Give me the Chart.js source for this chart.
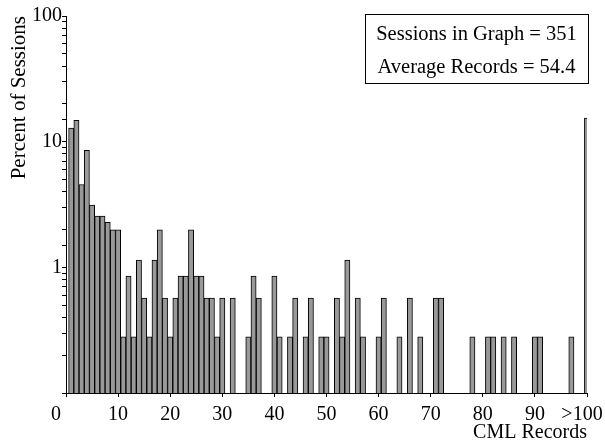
<!DOCTYPE html>
<html>
<head>
<meta charset="utf-8">
<title>CML Records per Session</title>
<script src="https://cdn.jsdelivr.net/npm/chart.js@4/dist/chart.umd.min.js"></script>
<style>
  html, body { margin: 0; padding: 0; background: #fff; }
  #wrap { width: 605px; height: 443px; }
</style>
</head>
<body>
<div id="wrap"><canvas id="chart" width="605" height="443"></canvas></div>
<script>
/* ── Data ──────────────────────────────────────────────────────────────── */
// bin = number of CML records in a session; 100 stands for the ">100" bin
const BINS = [
  1, 2, 3, 4, 5, 6, 7, 8, 9, 10,
  11, 12, 13, 14, 15, 16, 17, 18, 19, 20,
  21, 22, 23, 24, 25, 26, 27, 28, 29, 30,
  32, 35, 36, 37, 40, 41, 43, 44, 46, 47,
  49, 50, 52, 53, 54, 56, 57, 60, 61, 64,
  66, 68, 71, 72, 78, 81, 82, 84, 86, 90,
  91, 97, 100
];
// percent of sessions in each bin
const PERCENT = [
  12.82, 14.81, 4.56, 8.55, 3.13, 2.56, 2.56, 2.28, 1.99, 1.99,
  0.28, 0.85, 0.28, 1.14, 0.57, 0.28, 1.14, 1.99, 0.57, 0.28,
  0.57, 0.85, 0.85, 1.99, 0.85, 0.85, 0.57, 0.57, 0.28, 0.57,
  0.57, 0.28, 0.85, 0.57, 0.85, 0.28, 0.28, 0.57, 0.28, 0.57,
  0.28, 0.28, 0.57, 0.28, 1.14, 0.57, 0.28, 0.28, 0.57, 0.28,
  0.57, 0.28, 0.57, 0.57, 0.28, 0.28, 0.28, 0.28, 0.28, 0.28,
  0.28, 0.28, 15.38
];
const X_TICK_LABELS = ['0', '10', '20', '30', '40', '50', '60', '70', '80', '90', '>100'];
const Y_TICK_VALUES = [1, 10, 100];
const BOX_LINES = ['Sessions in Graph = 351', 'Average Records = 54.4'];

/* ── Look ──────────────────────────────────────────────────────────────── */
const SERIF = '"Liberation Serif", "Times New Roman", Times, serif';
Chart.defaults.font.family = SERIF;
Chart.defaults.font.size = 20;
Chart.defaults.color = '#000';

// end labels sit a little inwards in the original; trailing spaces nudge them left
const PAD_RIGHT = { 0: '\u2002\u2002', 10: '\u2002' };

// stats box in the upper right corner
const statsBox = {
  id: 'statsBox',
  afterDraw(chart) {
    const { ctx, chartArea } = chart;
    const right = chartArea.right + 1;
    const left = right - 223;
    const top = chartArea.top - 2;
    const h = 69;
    ctx.save();
    ctx.fillStyle = '#fff';
    ctx.fillRect(left, top, right - left, h);
    ctx.strokeStyle = '#000';
    ctx.lineWidth = 1;
    ctx.strokeRect(left + 0.5, top + 0.5, right - left, h);
    ctx.fillStyle = '#000';
    ctx.font = '20.5px ' + SERIF;
    ctx.textAlign = 'center';
    ctx.textBaseline = 'middle';
    BOX_LINES.forEach((line, i) => {
      ctx.fillText(line, (left + right) / 2, top + 21 + i * 33);
    });
    ctx.restore();
  }
};

const points = BINS.map((b, i) => ({ x: b, y: PERCENT[i] }));

new Chart(document.getElementById('chart'), {
  type: 'bar',
  data: {
    datasets: [{
      data: points,
      backgroundColor: '#999999',
      borderColor: '#000',
      borderWidth: 1,
      barPercentage: 1,
      categoryPercentage: 1,
    }]
  },
  options: {
    responsive: false,
    animation: false,
    layout: { padding: { left: 0, right: 0, top: 16, bottom: 0 } },
    plugins: {
      legend: { display: false },
      tooltip: { enabled: false },
    },
    scales: {
      x: {
        type: 'linear',
        min: 0,
        max: 100,
        offset: false,
        afterFit(scale) {
          scale.height = 50;
          scale.paddingLeft = 0;
          scale.paddingRight = 18;
        },
        grid: { drawOnChartArea: false, offset: false, tickLength: 4, color: '#000' },
        border: { color: '#000', width: 1 },
        ticks: {
          stepSize: 10,
          padding: 6,
          maxRotation: 0,
          autoSkip: false,
          callback: (v, i) => X_TICK_LABELS[i] + (i === 0 ? PAD_RIGHT[0] : i === 10 ? PAD_RIGHT[10] : ''),
        },
        title: {
          display: true,
          text: 'CML Records',
          align: 'end',
          font: { size: 20, lineHeight: 1 },
          padding: { top: 0, bottom: 0 },
        },
      },
      y: {
        type: 'logarithmic',
        min: 0.1,
        max: 100,
        afterFit(scale) { scale.width = 66; },
        grid: { drawOnChartArea: false, tickLength: 4, color: '#000' },
        border: { color: '#000', width: 1 },
        ticks: {
          autoSkip: false,
          padding: 0,
          callback: (v) => (Y_TICK_VALUES.includes(v) ? String(v) : ''),
        },
        title: {
          display: true,
          text: 'Percent of Sessions',
          align: 'end',
          font: { size: 21, lineHeight: 1 },
          padding: { top: 9, bottom: 0 },
        },
      },
    },
  },
  plugins: [statsBox],
});
</script>
</body>
</html>
